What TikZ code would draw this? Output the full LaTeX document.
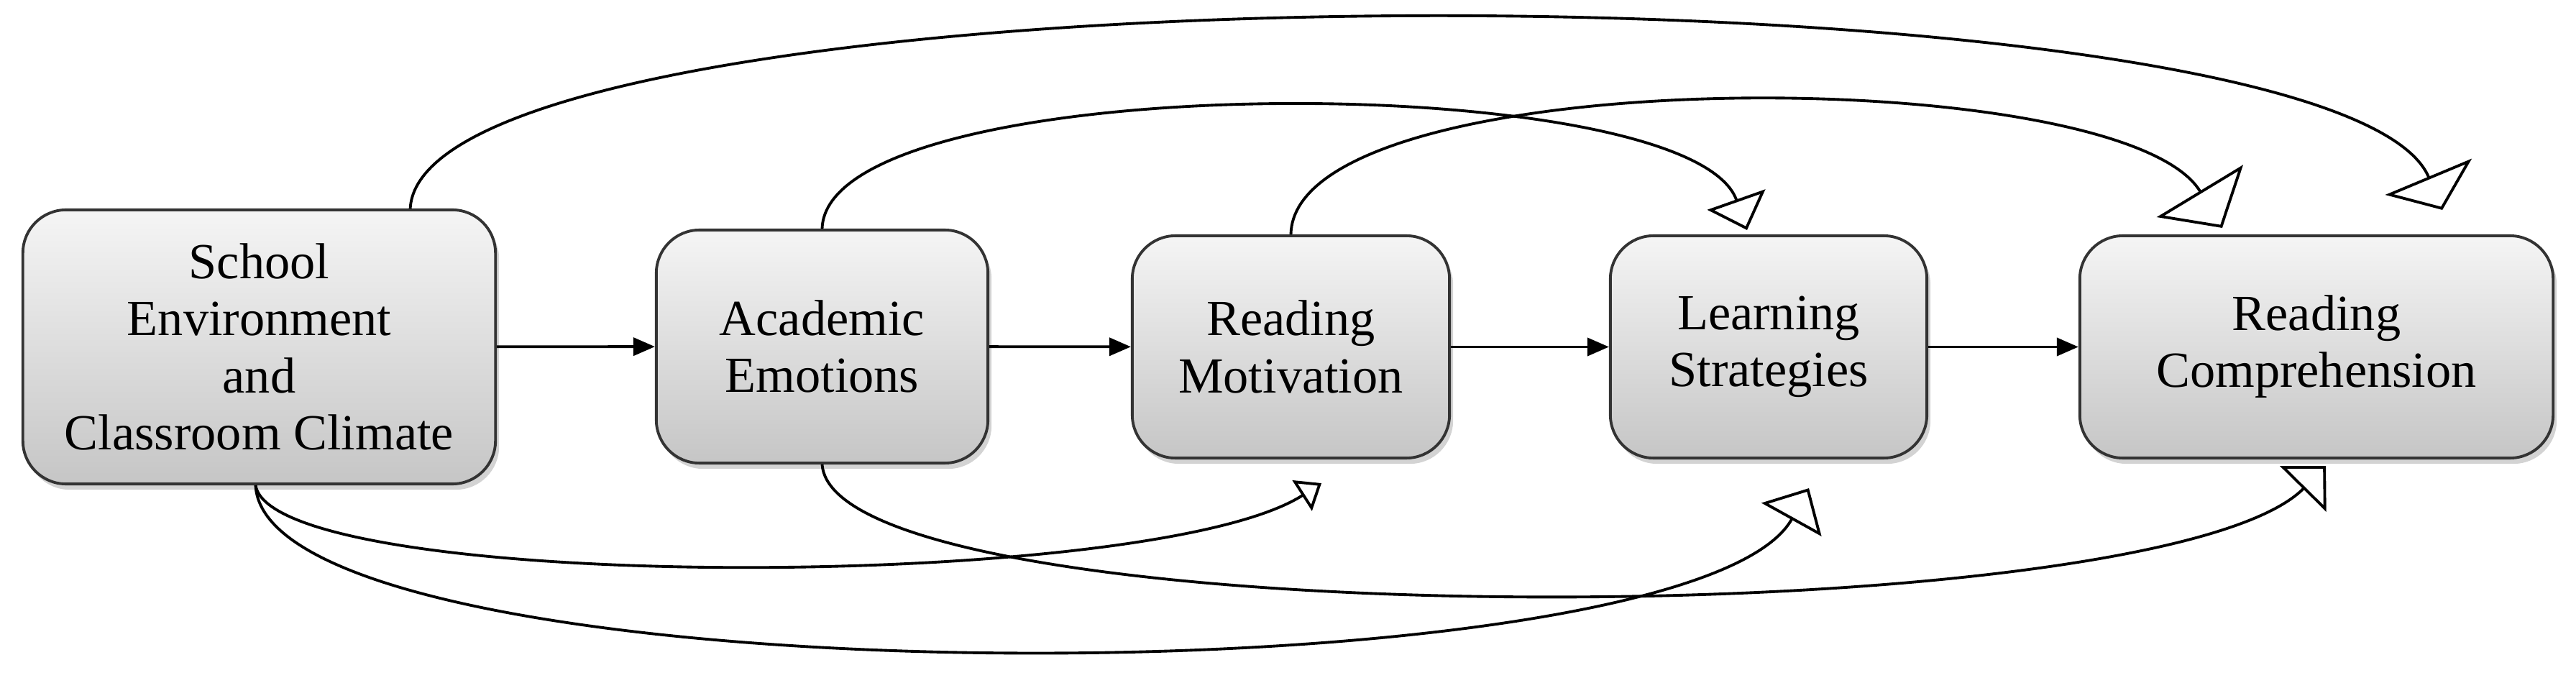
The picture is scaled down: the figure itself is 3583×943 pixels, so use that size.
\documentclass[tikz,border=0pt]{standalone}
\usepackage{fontspec}
\setmainfont{Liberation Serif}
\usetikzlibrary{arrows.meta,shadows}
\begin{document}
\begin{tikzpicture}[x=0.01cm,y=-0.01cm,
  box/.style={draw=black!80,line width=1.1pt,rounded corners=0.6cm,top color=gray!8,bottom color=gray!45,
    drop shadow={shadow xshift=0.05cm,shadow yshift=-0.08cm,opacity=0.35},
    inner sep=0pt,align=center,font=\fontsize{20}{22.5}\selectfont},
  main/.style={line width=1.1pt,-{Triangle[length=0.3cm,width=0.25cm]}},
  curve/.style={line width=1.1pt},
  oh/.style args={#1/#2}{-{Triangle[open,length=#1cm,width=#2cm,line width=1.1pt]}}]
\useasboundingbox (0,0) rectangle (3583,943);
\node[box,minimum width=6.57cm,minimum height=3.81cm] (a) at (360.5,482.5) {School\\Environment\\and\\Classroom Climate};
\node[box,minimum width=4.61cm,minimum height=3.24cm] (b) at (1143.5,482) {Academic\\Emotions};
\node[box,minimum width=4.41cm,minimum height=3.09cm] (c) at (1795.5,482.5) {Reading\\Motivation};
\node[box,minimum width=4.40cm,minimum height=3.09cm] (d) at (2460,482.5) {Learning\\Strategies};
\node[box,minimum width=6.58cm,minimum height=3.09cm] (e) at (3222,482.5) {Reading\\Comprehension};
\draw[main] (a) -- (b);
\draw[main] (b) -- (c);
\draw[main] (c) -- (d);
\draw[main] (d) -- (e);
% top curves
\draw[curve,oh=0.5/1.3] ([xshift=2.1cm]a.north) .. controls (590,-60) and (3250,-60) .. ([xshift=1.75cm,yshift=0.34cm]e.north);
\draw[curve,oh=0.45/0.85] (b.north) .. controls (1150,93) and (2350,93) .. ([xshift=-0.3cm,yshift=0.06cm]d.north);
\draw[curve,oh=0.6/1.4] (c.north) .. controls (1800,84) and (2950,84) .. ([xshift=-1.31cm,yshift=0.09cm]e.north);
% bottom curves
\draw[curve,oh=0.32/0.5] ([xshift=-0.05cm]a.south) .. controls (380,825) and (1600,825) .. ([xshift=0.425cm,yshift=-0.33cm]c.south);
\draw[curve,oh=0.5/0.95] ([xshift=-0.05cm]a.south) .. controls (370,978) and (2350,978) .. ([xshift=0.56cm,yshift=-0.4cm]d.south);
\draw[curve,oh=0.45/0.9] (b.south) .. controls (1160,886) and (3000,886) .. ([xshift=0.13cm,yshift=-0.09cm]e.south);
\end{tikzpicture}
\end{document}
